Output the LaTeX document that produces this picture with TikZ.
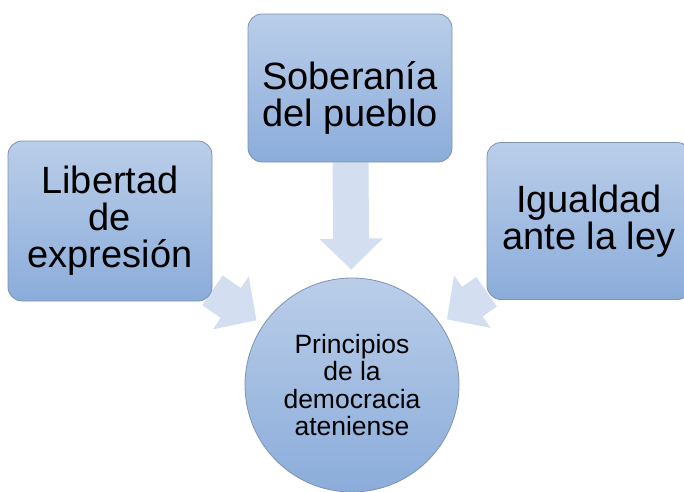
\documentclass[tikz,border=0pt]{standalone}
\usepackage{fontspec}
\setmainfont{Liberation Sans}
\usetikzlibrary{arrows.meta,backgrounds}

\definecolor{boxtop}{HTML}{BACEE9}
\definecolor{boxbot}{HTML}{8BACDA}
\definecolor{boxline}{HTML}{7E92B1}
\definecolor{arrowfill}{HTML}{D3DFF0}

\begin{document}
\begin{tikzpicture}[x=1pt,y=-1pt,
                    fatarrow/.style={color=arrowfill,line width=36pt,
                      -{Triangle[width=62pt,length=31pt]},shorten >=8pt}]
  \tikzstyle{every box}=[rectangle,rounded corners=14pt,draw=boxline,line width=0.8pt,
                         top color=boxtop,bottom color=boxbot,align=center,
                         minimum width=204pt,minimum height=160pt,
                         font=\fontsize{38}{37}\selectfont]
  \useasboundingbox (0,0) rectangle (684,491);

  \node[every box,minimum height=148pt,
        label={[align=center,font=\fontsize{38}{37}\selectfont,yshift=-10pt]center:Soberanía\\del pueblo}]
                                        (pueblo)   at (350,88)  {};
  \node[every box]                      (libertad) at (110,221) {Libertad\\de\\expresión};
  \node[every box,minimum height=157pt] (igualdad) at (589,221) {Igualdad\\ante la ley};
  \node[circle,draw=boxline,line width=0.8pt,top color=boxtop,bottom color=boxbot,
        minimum size=214pt,inner sep=0pt,align=center,
        font=\fontsize{26.5}{27.5}\selectfont] (principios) at (352,385)
        {Principios\\de la\\democracia\\ateniense};

  \begin{pgfonlayer}{background}
    \draw[fatarrow] (pueblo)   -- (principios);
    \draw[fatarrow] (libertad) -- (principios);
    \draw[fatarrow] (igualdad) -- (principios);
  \end{pgfonlayer}
\end{tikzpicture}
\end{document}
